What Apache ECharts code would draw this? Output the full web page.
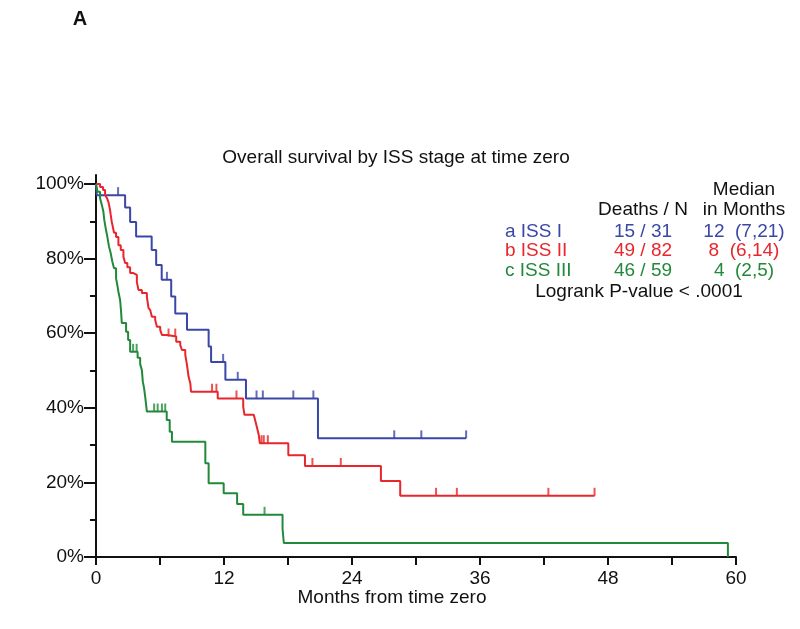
<!DOCTYPE html>
<html>
<head>
<meta charset="utf-8">
<script src="https://cdn.jsdelivr.net/npm/echarts@6/dist/echarts.min.js"></script>
<style>
html, body { margin: 0; padding: 0; background: #fff; }
#chart { width: 800px; height: 629px; }
</style>
</head>
<body>
<div id="chart"></div>
<script>
const groupNames = ['a ISS I', 'b ISS II', 'c ISS III'];
const deathsN = ['15 / 31', '49 / 82', '46 / 59'];
const medians = ['12  (7,21)', '8  (6,14)', '4  (2,5)'];
const groupColors = ['#3b47a6', '#e8262b', '#22893a'];
const yMajorTicks = [0, 20, 40, 60, 80, 100];
const yMinorTicks = [10, 30, 50, 70, 90];

// [month, survival %] right after each drop
const issI = [[0, 100], [0.07, 97.0], [2.73, 93.7], [3.20, 89.8], [3.76, 85.9], [5.22, 82.3], [5.64, 78.3],
  [6.16, 74.3], [7.05, 69.8], [7.43, 65.3], [8.53, 60.9], [10.56, 56.4], [10.79, 52.3], [12.13, 47.5],
  [14.06, 42.5], [20.81, 31.8], [34.70, 31.8]];
const issII = [[0, 100], [0.38, 99.2], [0.66, 98.4], [0.85, 97.1], [1.03, 96.2], [1.16, 95.2], [1.32, 93.0],
  [1.38, 91.7], [1.48, 89.8], [1.60, 88.2], [1.69, 86.9], [1.88, 85.8], [2.10, 83.6], [2.32, 82.3],
  [2.57, 80.5], [2.73, 78.8], [2.94, 77.7], [3.20, 76.1], [3.51, 75.6], [3.83, 73.7], [3.98, 71.6],
  [4.30, 70.8], [4.77, 69.7], [4.92, 66.8], [5.08, 66.2], [5.24, 64.4], [5.55, 63.5], [5.71, 61.7],
  [6.02, 60.9], [6.18, 59.5], [6.65, 59.1], [7.52, 57.7], [7.90, 56.8], [8.06, 55.5], [8.37, 54.2],
  [8.53, 51.5], [8.68, 48.3], [8.84, 46.6], [8.91, 44.3], [11.41, 42.5], [13.80, 40.3], [13.92, 38.1],
  [14.79, 37.6], [14.95, 36.3], [15.11, 34.5], [15.26, 32.7], [15.36, 30.5], [18.03, 27.3], [19.59, 24.4],
  [26.71, 20.4], [28.52, 16.4], [46.74, 16.4]];
const issIII = [[0, 100], [0.14, 97.9], [0.38, 96.2], [0.54, 94.4], [0.69, 92.6], [0.78, 90.3], [0.91, 88.1],
  [1.06, 85.9], [1.22, 83.2], [1.38, 81.4], [1.53, 79.2], [1.69, 77.4], [1.88, 74.7], [2.00, 72.9],
  [2.10, 71.1], [2.26, 68.9], [2.35, 65.8], [2.42, 62.7], [2.82, 60.4], [3.01, 58.2], [3.20, 55.0],
  [3.90, 53.4], [4.14, 51.7], [4.30, 50.1], [4.39, 47.0], [4.51, 45.2], [4.61, 43.0], [4.77, 39.0],
  [6.63, 36.7], [6.91, 33.6], [7.12, 30.9], [10.25, 25.1], [10.56, 19.8], [11.97, 17.1], [13.23, 14.2],
  [13.80, 11.3], [17.49, 7.5], [17.61, 3.75], [59.24, 0]];

// censored observations
const censorI = [[2.07, 97.0], [6.65, 74.3], [11.92, 52.3], [13.29, 47.5], [15.05, 42.5], [15.64, 42.5],
  [18.50, 42.5], [20.38, 42.5], [27.96, 31.8], [30.50, 31.8], [34.70, 31.8]];
const censorII = [[6.80, 59.1], [7.43, 59.1], [10.88, 44.3], [11.29, 44.3], [13.17, 42.5], [15.52, 30.5],
  [15.73, 30.5], [16.11, 30.5], [20.29, 24.4], [22.95, 24.4], [31.88, 16.4], [33.83, 16.4], [42.41, 16.4],
  [46.74, 16.4]];
const censorIII = [[3.48, 55.0], [3.81, 55.0], [5.45, 39.0], [5.78, 39.0], [6.18, 39.0], [6.49, 39.0],
  [15.80, 11.3]];

const curves = [issI, issII, issIII];
const censors = [censorI, censorII, censorIII];
const font = '"Liberation Sans", Arial, sans-serif';
const fontSize = 19;

const text = (x, y, str, opts = {}) => ({
  type: 'text',
  x,
  y,
  style: {
    text: str,
    fill: opts.color || '#111',
    font: `${opts.weight || 'normal'} ${opts.size || fontSize}px ${font}`,
    textAlign: opts.align || 'center',
    textVerticalAlign: 'middle',
  },
});

const graphics = [
  text(80, 19, 'A', { weight: 'bold', size: 20 }),
  text(396, 158, 'Overall survival by ISS stage at time zero'),
  text(744, 190, 'Median'),
  text(643, 210, 'Deaths / N'),
  text(744, 210, 'in Months'),
  text(639, 291.5, 'Logrank P-value < .0001'),
  text(392, 598, 'Months from time zero'),
];
groupNames.forEach((name, i) => {
  const y = 231.5 + i * 19.5;
  graphics.push(text(505, y, name, { color: groupColors[i], align: 'left' }));
  graphics.push(text(643, y, deathsN[i], { color: groupColors[i] }));
  graphics.push(text(744, y, medians[i], { color: groupColors[i] }));
});

const series = [];
curves.forEach((data, i) => {
  series.push({
    type: 'line',
    step: 'end',
    data,
    showSymbol: false,
    silent: true,
    lineStyle: { color: groupColors[i], width: 2 },
    z: 3,
  });
  series.push({
    type: 'scatter',
    data: censors[i],
    symbol: 'rect',
    symbolSize: [2, 8],
    symbolOffset: [0, -4],
    itemStyle: { color: groupColors[i] },
    silent: true,
    z: 3,
  });
});

const axisColor = '#111';
const chart = echarts.init(document.getElementById('chart'));
chart.setOption({
  backgroundColor: '#fff',
  animation: false,
  grid: { left: 96, right: 64, top: 175, bottom: 72 },
  xAxis: {
    type: 'value',
    min: 0,
    max: 60,
    interval: 6,
    axisLine: { onZero: false, lineStyle: { color: axisColor, width: 2 } },
    axisTick: { length: 8, lineStyle: { color: axisColor, width: 2 } },
    axisLabel: {
      margin: 12,
      color: '#111',
      fontSize,
      fontFamily: font,
      formatter: (v) => (v % 12 === 0 ? String(v) : ''),
    },
    splitLine: { show: false },
  },
  yAxis: [
    {
      type: 'value',
      min: 0,
      max: 102.4,
      axisLine: { show: true, lineStyle: { color: axisColor, width: 2 } },
      axisTick: { show: true, length: 12, customValues: yMajorTicks, lineStyle: { color: axisColor, width: 2 } },
      axisLabel: {
        margin: 12,
        color: '#111',
        fontSize,
        fontFamily: font,
        customValues: yMajorTicks,
        formatter: (v) => v + '%',
      },
      splitLine: { show: false },
    },
    {
      type: 'value',
      min: 0,
      max: 102.4,
      position: 'left',
      axisLine: { show: false },
      axisTick: { show: true, length: 6, customValues: yMinorTicks, lineStyle: { color: axisColor, width: 2 } },
      axisLabel: { show: false, customValues: yMinorTicks },
      splitLine: { show: false },
    },
  ],
  series,
  graphic: graphics,
});
</script>
</body>
</html>
